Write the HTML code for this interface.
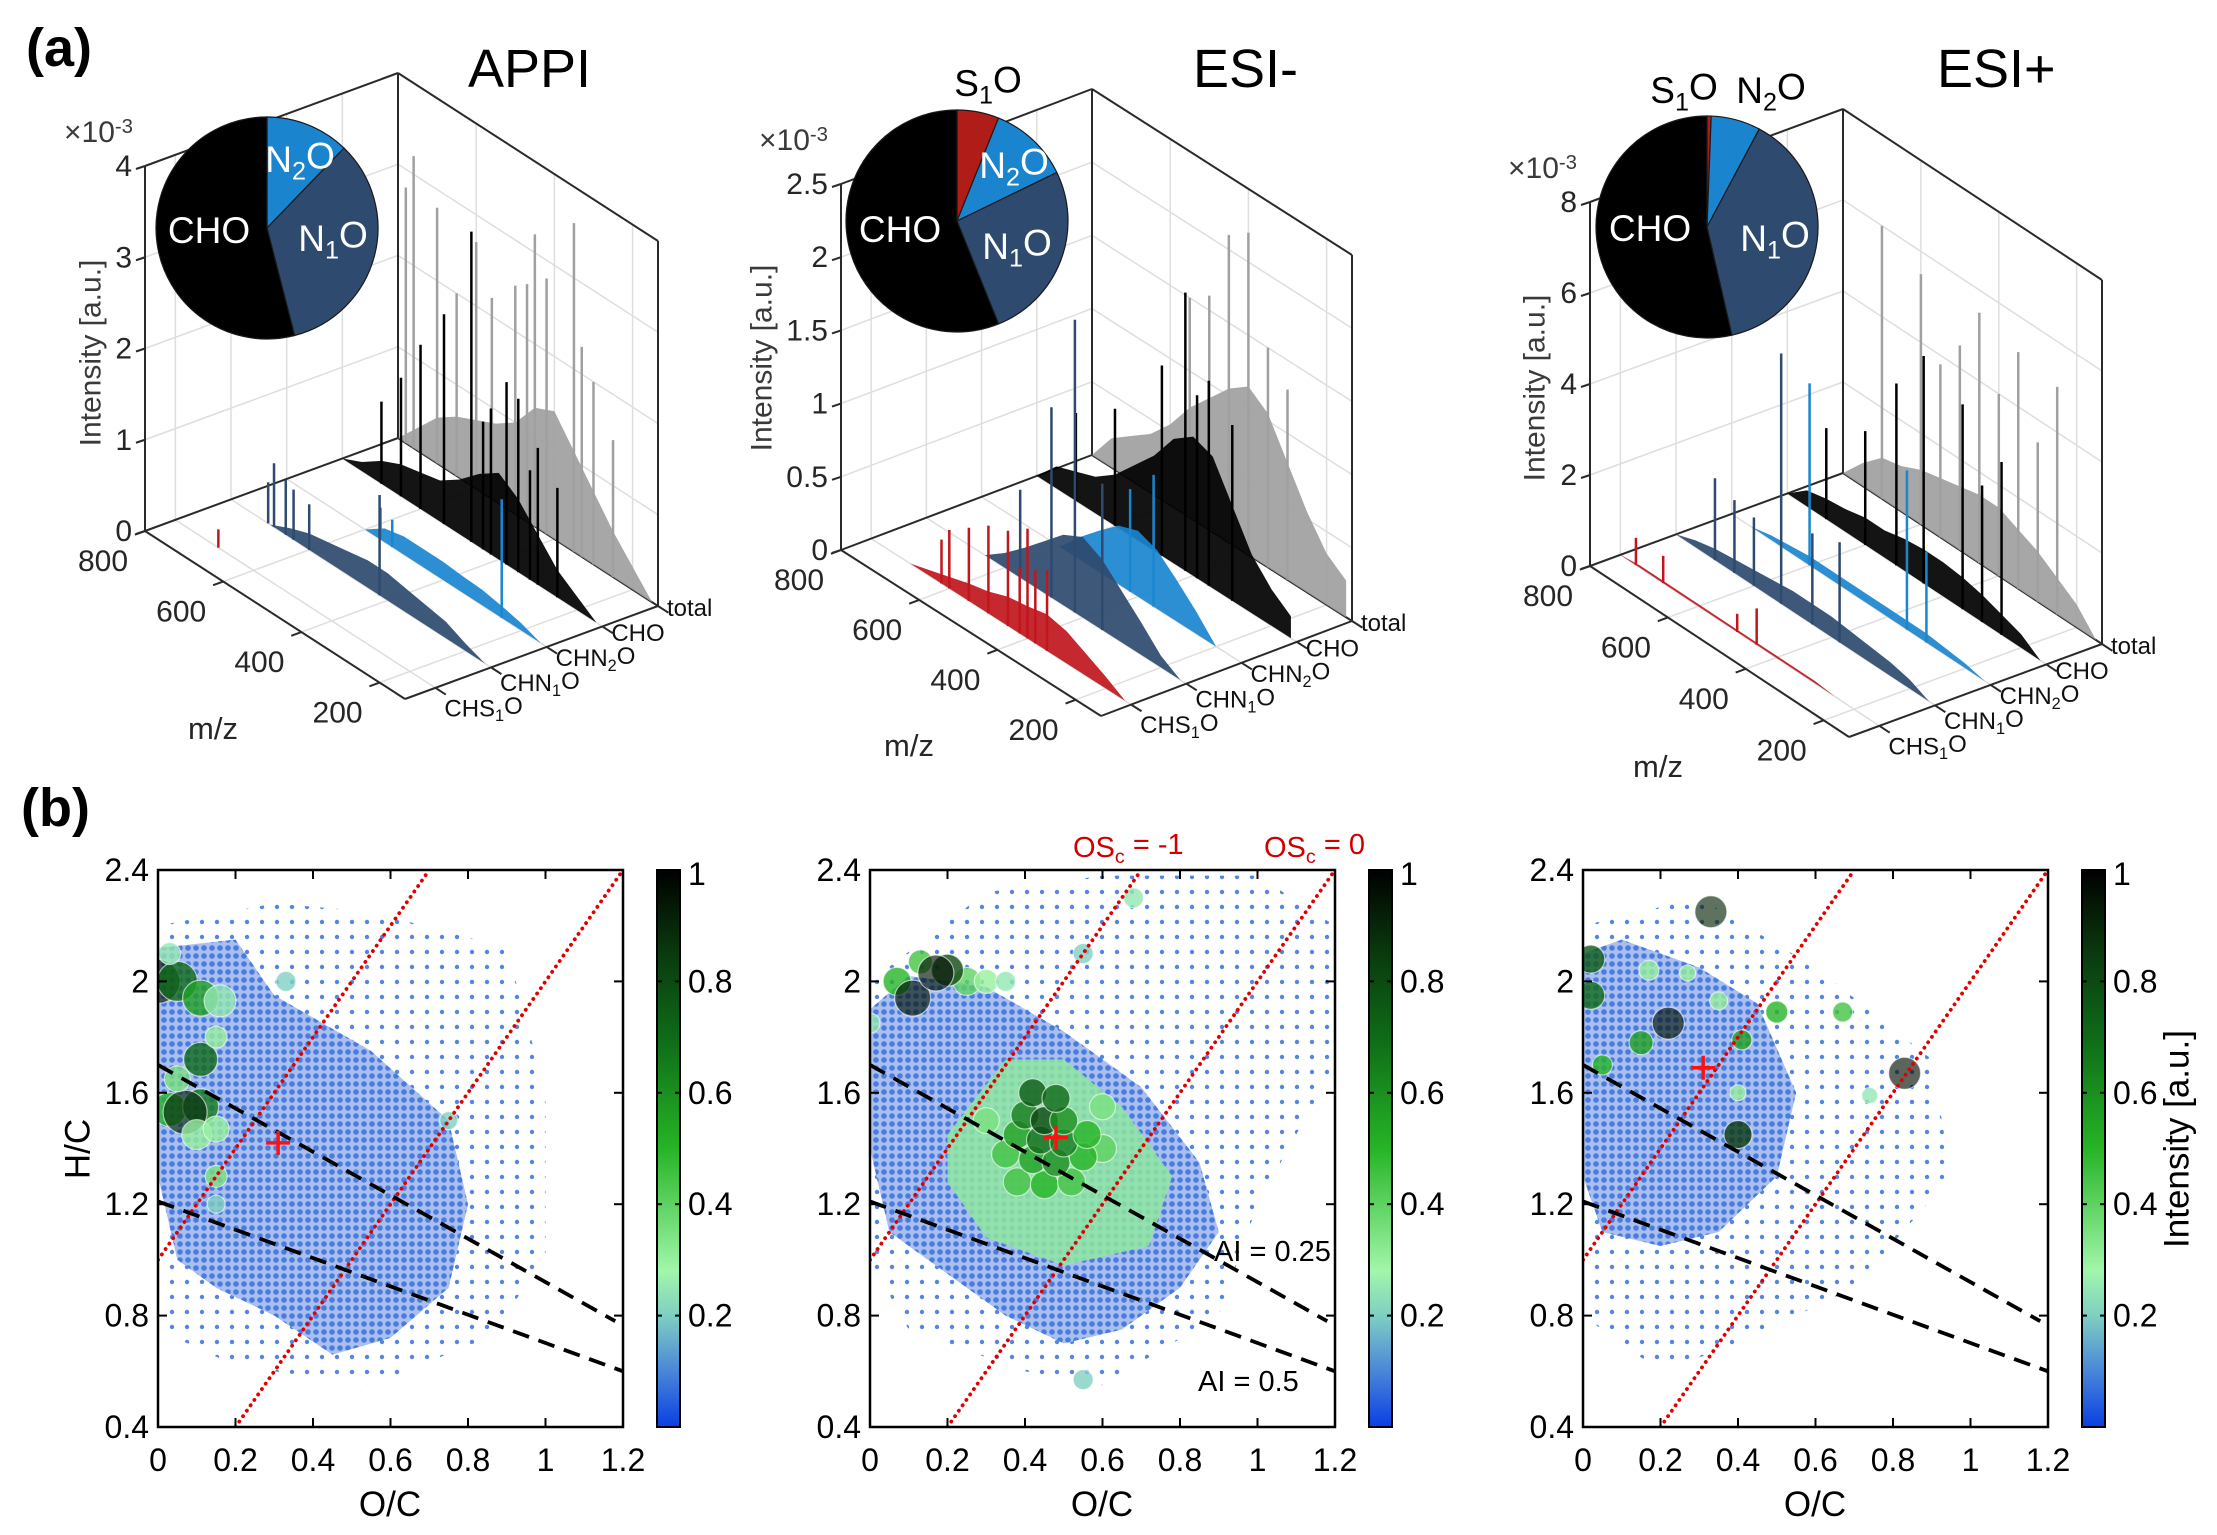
<!DOCTYPE html>
<html><head><meta charset="utf-8"><style>
html,body{margin:0;padding:0;background:#fff}
svg{display:block;font-family:"Liberation Sans",Arial,sans-serif}
</style></head><body>
<svg id="fig" xmlns="http://www.w3.org/2000/svg" width="2217" height="1535" viewBox="0 0 2217 1535">
<defs>
<pattern id="dotsDense" width="8" height="8" patternUnits="userSpaceOnUse"><circle cx="4" cy="4" r="2.8" fill="#3a6fdc"/></pattern>
<pattern id="dotsSparse" width="15" height="15" patternUnits="userSpaceOnUse"><circle cx="7" cy="7" r="2.2" fill="#5585e0"/></pattern>
<linearGradient id="cmap" x1="0" y1="1" x2="0" y2="0">
<stop offset="0" stop-color="#0a3fe2"/><stop offset="0.1" stop-color="#4a86d8"/><stop offset="0.2" stop-color="#7fcfc2"/><stop offset="0.28" stop-color="#a2f6aa"/><stop offset="0.5" stop-color="#26b426"/><stop offset="0.7" stop-color="#0f6a18"/><stop offset="0.85" stop-color="#0a3a0e"/><stop offset="1" stop-color="#000"/>
</linearGradient>
</defs>
<text x="26" y="66" font-size="54" font-weight="bold">(a)</text>
<text x="21" y="826" font-size="54" font-weight="bold">(b)</text>
<g id="topG"></g>
<g id="bottomG"></g>
</svg>
<script>
// ---------- DATA: spectra (a) ----------
const mzBins = [150,200,250,300,350,400,450,500,550,600,650,700,750,800];
const categories = ['CHS1O','CHN1O','CHN2O','CHO','total'];
const appiCHS = [0,0,0,0,0,0,0,0,0,0,0,0,0,0];
const appiCHSspikeMz = [690]; const appiCHSspikeH = [0.2];
const appiCHN1 = [0,0.08,0.18,0.22,0.26,0.3,0.3,0.26,0.22,0.18,0.1,0,0,0];
const appiCHN1spikeMz = [420,600,640,660,690,705]; const appiCHN1spikeH = [1.1,0.5,0.55,0.6,0.7,0.45];
const appiCHN2 = [0,0.08,0.13,0.17,0.18,0.2,0.2,0.2,0.15,0,0,0,0,0];
const appiCHN2spikeMz = [250,560,530]; const appiCHN2spikeH = [1.3,0.35,0.3];
const appiCHO = [0,0.15,0.3,0.55,0.8,0.95,0.8,0.6,0.45,0.4,0.35,0.25,0.1,0];
const appiCHOspikeMz = [250,300,350,380,420,470,540,600,650,700,320,440]; const appiCHOspikeH = [1.2,1.5,1.9,2.0,1.6,3.4,2.3,1.8,1.3,0.9,1.2,1.4];
const appiTot = [0,0.25,0.5,0.8,1.1,1.4,1.3,1.0,0.85,0.75,0.65,0.5,0.25,0];
const appiTotspikeMz = [250,300,350,420,450,500,560,600,650,700,760,780,330,470]; const appiTotspikeH = [1.5,2.0,3.6,2.8,3.2,2.5,2.2,2.7,2.0,2.8,3.2,2.8,2.3,2.6];

const esiNCHS = [0,0.08,0.15,0.22,0.25,0.22,0.2,0.15,0.12,0.08,0.04,0,0,0];
const esiNCHSspikeMz = [350,400,450,500,550,600,620,380,420]; const esiNCHSspikeH = [0.55,0.75,0.65,0.6,0.5,0.4,0.3,0.5,0.45];
const esiNCHN1 = [0,0.08,0.22,0.35,0.48,0.55,0.48,0.35,0.22,0.1,0,0,0,0];
const esiNCHN1spikeMz = [350,420,480,560]; const esiNCHN1spikeH = [1.0,2.0,1.3,0.6];
const esiNCHN2 = [0,0,0.15,0.28,0.4,0.45,0.4,0.28,0.15,0,0,0,0,0];
const esiNCHN2spikeMz = [360,420]; const esiNCHN2spikeH = [0.9,0.7];
const esiNCHO = [0.15,0.25,0.4,0.65,0.9,0.95,0.85,0.65,0.5,0.35,0.25,0.2,0.15,0];
const esiNCHOspikeMz = [300,360,420,480,600,700,390]; const esiNCHOspikeH = [1.2,1.4,1.9,1.3,0.8,0.6,1.25];
const esiNTot = [0.25,0.35,0.55,0.8,1.05,1.15,1.05,0.9,0.75,0.55,0.4,0.3,0.2,0];
const esiNTotspikeMz = [350,400,450,500,550,300]; const esiNTotspikeH = [1.5,2.2,2.1,1.6,1.5,1.3];

const esiPCHS = [0,0,0,0.05,0.05,0.05,0.05,0.05,0.05,0.05,0.05,0.05,0.05,0];
const esiPCHSspikeMz = [450,500,690,760]; const esiPCHSspikeH = [0.8,0.4,0.6,0.6];
const esiPCHN1 = [0,0.2,0.3,0.35,0.4,0.45,0.45,0.45,0.4,0.35,0.3,0.25,0.15,0];
const esiPCHN1spikeMz = [380,450,530,600,650,700]; const esiPCHN1spikeH = [2.2,2.0,5.5,1.5,1.6,1.8];
const esiPCHN2 = [0,0.1,0.15,0.2,0.2,0.2,0.2,0.2,0.2,0.2,0.15,0.1,0,0];
const esiPCHN2spikeMz = [300,350,600]; const esiPCHN2spikeH = [2.0,3.5,4.0];
const esiPCHO = [0,0.3,0.45,0.6,0.7,0.75,0.75,0.7,0.6,0.6,0.5,0.45,0.35,0];
const esiPCHOspikeMz = [250,300,350,450,520,600,700]; const esiPCHOspikeH = [3.8,3.0,4.5,5.0,4.0,2.5,2.0];
const esiPTot = [0,0.5,0.8,1.1,1.3,1.5,1.5,1.4,1.3,1.2,1.0,0.9,0.5,0];
const esiPTotspikeMz = [250,350,450,500,600,700,300,400,550]; const esiPTotspikeH = [5.0,5.2,5.5,4.5,5.5,6.0,3.5,4.0,3.8];

const zTicksAPPI = [0,1,2,3,4];
const zTicksESIn = [0,0.5,1,1.5,2,2.5];
const zTicksESIp = [0,2,4,6,8];
const mzTicks = [200,400,600,800];

// pie fractions, clockwise from top: S1O, N2O, N1O, CHO
const pieAPPI = [0,0.122,0.338,0.54];
const pieESIn = [0.061,0.117,0.261,0.561];
const pieESIp = [0.006,0.072,0.386,0.536];

// ---------- DATA: van Krevelen (b) ----------
const xTicks = [0,0.2,0.4,0.6,0.8,1,1.2];
const yTicks = [0.4,0.8,1.2,1.6,2,2.4];
const cbTicks = [0.2,0.4,0.6,0.8,1];
const cloudOuterAPPI = [[0,2.2],[0.3,2.28],[0.55,2.25],[0.9,2.12],[1.0,1.6],[1.0,1.0],[0.85,0.72],[0.55,0.55],[0.2,0.62],[0,0.75]];
const cloudInnerAPPI = [[0,2.12],[0.2,2.15],[0.3,1.95],[0.55,1.75],[0.75,1.5],[0.8,1.2],[0.75,0.9],[0.6,0.72],[0.45,0.66],[0.3,0.8],[0.15,0.9],[0.05,1.0],[0,1.3]];
const cloudOuterESIn = [[0,2.0],[0.3,2.32],[0.6,2.38],[1.0,2.38],[1.2,2.2],[1.2,1.7],[1.0,1.2],[0.9,0.8],[0.6,0.55],[0.4,0.6],[0.1,0.75],[0,1.0]];
const cloudInnerESIn = [[0,1.9],[0.1,2.02],[0.3,1.98],[0.5,1.82],[0.7,1.62],[0.85,1.35],[0.9,1.1],[0.8,0.9],[0.65,0.75],[0.5,0.7],[0.35,0.8],[0.2,0.95],[0.05,1.1],[0,1.4]];
const cloudGreenESIn = [[0.2,1.45],[0.35,1.72],[0.5,1.72],[0.65,1.55],[0.78,1.3],[0.72,1.05],[0.5,0.98],[0.3,1.08],[0.2,1.28]];
const cloudOuterESIp = [[0,2.2],[0.3,2.3],[0.6,2.05],[0.9,1.72],[0.95,1.3],[0.7,0.9],[0.4,0.7],[0.2,0.6],[0,0.8]];
const cloudInnerESIp = [[0,2.1],[0.1,2.15],[0.3,2.05],[0.45,1.92],[0.55,1.6],[0.5,1.3],[0.35,1.1],[0.2,1.05],[0.05,1.1],[0,1.3]];
// points: [O/C, H/C, intensity, radius]
const ptsAPPI = [[0,2.0,0.95,22],[0.05,2.0,0.7,20],[0.11,1.94,0.55,18],[0.16,1.93,0.25,16],[0.03,2.1,0.25,11],[0.11,1.72,0.7,17],[0.03,1.54,0.5,17],[0.11,1.55,0.65,18],[0.07,1.53,0.9,22],[0.05,1.65,0.35,13],[0.1,1.45,0.3,15],[0.15,1.47,0.3,13],[0.15,1.8,0.3,11],[0.15,1.3,0.35,11],[0.33,2.0,0.2,10],[0.75,1.5,0.2,9],[0.15,1.2,0.2,9]];
const ptsESIn = [[0.07,2.0,0.5,14],[0.13,2.07,0.45,12],[0.25,2.0,0.4,14],[0.3,2.0,0.3,12],[0.35,2.0,0.25,10],[0.55,2.1,0.2,10],[0.68,2.3,0.25,10],[0,1.85,0.25,10],[0.2,2.04,0.8,16],[0.11,1.94,0.95,18],[0.17,2.03,0.95,18],
 [0.3,1.5,0.35,13],[0.6,1.55,0.35,13],[0.38,1.28,0.45,14],[0.45,1.27,0.5,14],[0.52,1.28,0.45,14],[0.35,1.38,0.45,14],[0.6,1.4,0.4,14],[0.42,1.36,0.55,14],[0.48,1.35,0.6,14],[0.55,1.37,0.5,14],[0.38,1.45,0.55,14],[0.44,1.43,0.7,14],[0.5,1.42,0.65,14],[0.56,1.45,0.5,14],[0.4,1.52,0.65,14],[0.45,1.5,0.8,14],[0.5,1.5,0.6,14],[0.42,1.6,0.75,14],[0.48,1.58,0.7,14],[0.55,0.57,0.2,10]];
const ptsESIp = [[0.17,2.04,0.3,10],[0.27,2.03,0.3,8],[0.35,1.93,0.3,9],[0.74,1.59,0.25,8],[0.4,1.6,0.3,8],[0.33,2.25,0.9,16],[0.02,2.08,0.75,14],[0.02,1.95,0.7,14],[0.22,1.85,0.95,16],[0.15,1.78,0.55,12],[0.05,1.7,0.5,10],[0.5,1.89,0.5,11],[0.41,1.79,0.55,10],[0.67,1.89,0.45,10],[0.4,1.45,0.85,14],[0.83,1.67,0.95,16]];
const crossAPPI = [0.31,1.42], crossESIn = [0.48,1.44], crossESIp = [0.31,1.69];
const osc1Line = [[0,1.0],[0.7,2.4]];
const osc0Line = [[0.2,0.4],[1.2,2.4]];
const ai025Line = [[0,1.7],[1.18,0.78]];
const ai05Line = [[0,1.21],[1.2,0.6]];

// ---------- helpers ----------
const NS='http://www.w3.org/2000/svg';
function mk(tag, attrs, parent){const e=document.createElementNS(NS,tag);for(const k in attrs)e.setAttribute(k,attrs[k]);parent.appendChild(e);return e;}
function sub(t, parts){
  parts.forEach(p=>{const s=document.createElementNS(NS,'tspan');s.textContent=p[0];if(p[1]){s.setAttribute('font-size','0.68em');s.setAttribute('dy',p[1]>0?'0.3em':'-0.45em');}else if(p[2]){s.setAttribute('dy',p[2]);}t.appendChild(s);});
}
const catParts = {CHS1O:[['CHS'],['1',1],['O',0,'-0.3em']],CHN1O:[['CHN'],['1',1],['O',0,'-0.3em']],CHN2O:[['CHN'],['2',1],['O',0,'-0.3em']],CHO:[['CHO']],total:[['total']]};
const gTop=document.getElementById('topG'), gBottom=document.getElementById('bottomG');

// ---------- (a) 3D spectra ----------
const panels3D=[
 {name:'appi',title:'APPI',tx:468,A:[145,531],B:[398,438],C:[656,604],D:[405,699],zh:365,zmax:4,zt:zTicksAPPI,
  series:[[appiTot,appiTotspikeMz,appiTotspikeH],[appiCHO,appiCHOspikeMz,appiCHOspikeH],[appiCHN2,appiCHN2spikeMz,appiCHN2spikeH],[appiCHN1,appiCHN1spikeMz,appiCHN1spikeH],[appiCHS,appiCHSspikeMz,appiCHSspikeH]],
  pie:pieAPPI,pc:[267,228],exp:[64,142],ylab:[90,353]},
 {name:'esi-neg',title:'ESI-',tx:1193,A:[841,550],B:[1092,455],C:[1350,619],D:[1101,716],zh:366,zmax:2.5,zt:zTicksESIn,
  series:[[esiNTot,esiNTotspikeMz,esiNTotspikeH],[esiNCHO,esiNCHOspikeMz,esiNCHOspikeH],[esiNCHN2,esiNCHN2spikeMz,esiNCHN2spikeH],[esiNCHN1,esiNCHN1spikeMz,esiNCHN1spikeH],[esiNCHS,esiNCHSspikeMz,esiNCHSspikeH]],
  pie:pieESIn,pc:[957,221],exp:[759,150],ylab:[761,358]},
 {name:'esi-pos',title:'ESI+',tx:1937,A:[1590,566],B:[1843,473],C:[2100,638],D:[1849,737],zh:364,zmax:8,zt:zTicksESIp,
  series:[[esiPTot,esiPTotspikeMz,esiPTotspikeH],[esiPCHO,esiPCHOspikeMz,esiPCHOspikeH],[esiPCHN2,esiPCHN2spikeMz,esiPCHN2spikeH],[esiPCHN1,esiPCHN1spikeMz,esiPCHN1spikeH],[esiPCHS,esiPCHSspikeMz,esiPCHSspikeH]],
  pie:pieESIp,pc:[1707,227],exp:[1508,178],ylab:[1534,388]}
];
const catV=[0.12,0.34,0.56,0.78,1.0];
const seriesColors=['#a0a0a0','#000000','#1a86d0','#2e4a6e','#c0161c'];
const seriesNames=['total','CHO','CHN2O','CHN1O','CHS1O'];
const seriesV=[1.0,0.78,0.56,0.34,0.12];
const pieColors=['#b01c17','#1a84cf','#2e4a6e','#000000'];
const pieNames=['S1O','N2O','N1O','CHO'];

panels3D.forEach(p=>{
  const g=mk('g',{},gTop);
  
  
  const proj=(mz,v,z)=>{const u=(800-mz)/665;return [p.A[0]+u*(p.D[0]-p.A[0])+v*(p.B[0]-p.A[0]), p.A[1]+u*(p.D[1]-p.A[1])+v*(p.B[1]-p.A[1])-z/p.zmax*p.zh];};
  const L=(a,b,st,w,par)=>mk('line',{x1:a[0],y1:a[1],x2:b[0],y2:b[1],stroke:st,'stroke-width':w},par||g);
  const grid=mk('g',{},g);
  
  
  const gc='#dedede';
  p.zt.forEach(z=>{ if(z===0)return; L(proj(800,0,z),proj(800,1,z),gc,1.5,grid); L(proj(800,1,z),proj(135,1,z),gc,1.5,grid);});
  catV.forEach(v=>{L(proj(800,v,0),proj(800,v,p.zmax),gc,1.5,grid); L(proj(800,v,0),proj(135,v,0),gc,1.5,grid);});
  mzTicks.forEach(m=>{L(proj(m,1,0),proj(m,1,p.zmax),gc,1.5,grid); L(proj(m,0,0),proj(m,1,0),gc,1.5,grid);});
  const bx=mk('g',{},g);
  
  
  const ac='#2a2a2a';
  L(proj(800,0,p.zmax),proj(800,1,p.zmax),ac,2,bx);
  L(proj(800,1,0),proj(800,1,p.zmax),ac,2,bx);
  L(proj(800,1,p.zmax),proj(135,1,p.zmax),ac,2,bx);
  L(proj(135,1,0),proj(135,1,p.zmax),ac,2,bx);
  L(proj(800,0,0),proj(800,1,0),ac,2,bx);
  L(proj(800,1,0),proj(135,1,0),ac,2,bx);
  p.series.forEach((s,si)=>{
    const sg=mk('g',{},g);
    
    
    const v=seriesV[si];
    const vals=s[0];
    let i0=vals.findIndex(x=>x>0), i1=-1;
    for(let i=vals.length-1;i>=0;i--){if(vals[i]>0){i1=i;break;}}
    if(i0>=0){
      i0=Math.max(0,i0-1); i1=Math.min(vals.length-1,i1+1);
      let pts=[];
      for(let i=i0;i<=i1;i++)pts.push(proj(mzBins[i],v,vals[i]));
      pts.push(proj(mzBins[i1],v,0)); pts.push(proj(mzBins[i0],v,0));
      const poly=mk('polygon',{points:pts.map(q=>q.join(',')).join(' '),fill:seriesColors[si],'fill-opacity':0.92},sg);
      
      
    }
    s[1].forEach((m,i)=>{
      const ln=L(proj(m,v,0),proj(m,v,s[2][i]),seriesColors[si],2.5,sg);
      
      
    });
  });
  L(proj(800,0,0),proj(800,0,p.zmax),ac,2,bx);
  L(proj(800,0,0),proj(135,0,0),ac,2,g);
  L(proj(135,0,0),proj(135,1,0),ac,2,g);
  p.zt.forEach(z=>{
    const q=proj(800,0,z);
    L(q,[q[0]-9,q[1]+3],ac,2);
    const t=mk('text',{x:q[0]-13,y:q[1]+10,'font-size':30,'text-anchor':'end',fill:'#262626'},g);
    t.textContent=String(z);
    
    
  });
  mzTicks.forEach(m=>{
    const q=proj(m,0,0);
    L(q,[q[0]-(p.B[0]-p.A[0])*0.04,q[1]-(p.B[1]-p.A[1])*0.04],ac,2);
    const t=mk('text',{x:q[0]-42,y:q[1]+40,'font-size':30,'text-anchor':'middle',fill:'#262626'},g);
    t.textContent=String(m);
    
    
  });
  categories.forEach((c,i)=>{
    const v=catV[i];
    const q=proj(135,v,0);
    L(q,[q[0]+(p.D[0]-p.A[0])*0.04,q[1]+(p.D[1]-p.A[1])*0.04],ac,2);
    const t=mk('text',{x:q[0]+9,y:q[1]+10+(1-v)*21,'font-size':24,fill:'#111'},g);
    sub(t,catParts[c]);
    
    
  });
  const mzl=mk('text',{x:p.A[0]+68,y:p.D[1]+40,'font-size':31,'text-anchor':'middle',fill:'#262626'},g);
  mzl.textContent='m/z';
  
  
  const yl=mk('text',{x:p.ylab[0],y:p.ylab[1],'font-size':30,'text-anchor':'middle',fill:'#3a3a3a',transform:`rotate(-90 ${p.ylab[0]} ${p.ylab[1]})`,dy:'0.35em'},g);
  yl.textContent='Intensity [a.u.]';
  
  
  const ex=mk('text',{x:p.exp[0],y:p.exp[1],'font-size':30,fill:'#3a3a3a'},g);
  sub(ex,[['×10'],['-3',-1]]);
  
  
  const ti=mk('text',{x:p.tx,y:87,'font-size':54,fill:'#000'},g);
  ti.textContent=p.title;
  
  
  const pg=mk('g',{},g);
  
  
  const R=111; let a0=0;
  p.pie.forEach((f,i)=>{
    if(f<=0)return;
    const a1=a0+f*2*Math.PI;
    const x0=p.pc[0]+R*Math.sin(a0), y0=p.pc[1]-R*Math.cos(a0), x1=p.pc[0]+R*Math.sin(a1), y1=p.pc[1]-R*Math.cos(a1);
    const path=mk('path',{d:`M${p.pc[0]},${p.pc[1]} L${x0},${y0} A${R},${R} 0 ${f>0.5?1:0} 1 ${x1},${y1} Z`,fill:pieColors[i],stroke:'#1a1a1a','stroke-width':1.2},pg);
    
    
    a0=a1;
  });
});
const pieLabels=[
 [209,243,'#fff',[['CHO']]],[300,172,'#fff',[['N'],['2',1],['O',0,'-0.3em']]],[333,251,'#fff',[['N'],['1',1],['O',0,'-0.3em']]],
 [900,242,'#fff',[['CHO']]],[1014,178,'#fff',[['N'],['2',1],['O',0,'-0.3em']]],[1017,259,'#fff',[['N'],['1',1],['O',0,'-0.3em']]],[988,96,'#000',[['S'],['1',1],['O',0,'-0.3em']]],
 [1650,241,'#fff',[['CHO']]],[1775,251,'#fff',[['N'],['1',1],['O',0,'-0.3em']]],[1684,103,'#000',[['S'],['1',1],['O',0,'-0.3em']]],[1771,103,'#000',[['N'],['2',1],['O',0,'-0.3em']]]
];
pieLabels.forEach(l=>{
  const t=mk('text',{x:l[0],y:l[1],'font-size':37,'text-anchor':'middle',fill:l[2]},gTop);
  sub(t,l[3]);
  
  
});

// ---------- (b) van Krevelen ----------
const panelsVK=[
 {name:'appi',x0:158,outer:cloudOuterAPPI,inner:cloudInnerAPPI,green:null,pts:ptsAPPI,cross:crossAPPI,ylab:true},
 {name:'esi-neg',x0:870,outer:cloudOuterESIn,inner:cloudInnerESIn,green:cloudGreenESIn,pts:ptsESIn,cross:crossESIn,ylab:false},
 {name:'esi-pos',x0:1583,outer:cloudOuterESIp,inner:cloudInnerESIp,green:null,pts:ptsESIp,cross:crossESIp,ylab:false,cblab:true}
];
const PW=465, PT=870, PB=1427;
const cstops=[[0,[10,63,226]],[0.1,[74,134,216]],[0.2,[127,207,194]],[0.28,[162,246,170]],[0.5,[38,180,38]],[0.7,[15,106,24]],[0.85,[10,58,14]],[1,[0,0,0]]];
function cmap(v){for(let i=1;i<cstops.length;i++){if(v<=cstops[i][0]){const a=cstops[i-1],b=cstops[i],t=(v-a[0])/(b[0]-a[0]);return 'rgb('+a[1].map((c,k)=>Math.round(c+(b[1][k]-c)*t)).join(',')+')';}}return '#000';}
panelsVK.forEach((p,pi)=>{
  const g=mk('g',{},gBottom);
  
  
  const sx=x=>p.x0+x/1.2*PW, sy=y=>PB-(y-0.4)/2*(PB-PT);
  const cid='clip'+pi;
  const cp=mk('clipPath',{id:cid},g); mk('rect',{x:p.x0,y:PT,width:PW,height:PB-PT},cp);
  const pg=mk('g',{'clip-path':`url(#${cid})`},g);
  const poly=(arr)=>arr.map(q=>sx(q[0])+','+sy(q[1])).join(' ');
  const o=mk('polygon',{points:poly(p.outer),fill:'url(#dotsSparse)'},pg);
  
  
  const inr=mk('polygon',{points:poly(p.inner),fill:'#a9c0ef'},pg);
  
  
  const inr2=mk('polygon',{points:poly(p.inner),fill:'url(#dotsDense)',opacity:0.85},pg);
  
  
  if(p.green){
    const gr=mk('polygon',{points:poly(p.green),fill:'#8fe6a0',opacity:0.85},pg);
    
    
  }
  p.pts.forEach(d=>{
    const c=mk('circle',{cx:sx(d[0]),cy:sy(d[1]),r:d[3],fill:cmap(d[2]),'fill-opacity':d[2]>0.85?0.65:0.8,stroke:'rgba(255,255,255,0.6)','stroke-width':1.2},pg);
    
    
  });
  const LL=(arr,st,w,da)=>mk('line',{x1:sx(arr[0][0]),y1:sy(arr[0][1]),x2:sx(arr[1][0]),y2:sy(arr[1][1]),stroke:st,'stroke-width':w,'stroke-dasharray':da,'stroke-linecap':da.startsWith('0')?'round':'butt'},pg);
  const l1=LL(osc1Line,'#e00000',3.8,'0.1 6.5');
  
  
  const l2=LL(osc0Line,'#e00000',3.8,'0.1 6.5');
  
  
  const l3=LL(ai025Line,'#000',3.8,'17 10');
  
  
  const l4=LL(ai05Line,'#000',3.8,'17 10');
  
  
  const cx=sx(p.cross[0]), cy=sy(p.cross[1]);
  const cr=mk('path',{d:`M${cx-12},${cy}H${cx+12}M${cx},${cy-12}V${cy+12}`,stroke:'#ff1010','stroke-width':3.5},g);
  
  
  const fr=mk('rect',{x:p.x0,y:PT,width:PW,height:PB-PT,fill:'none',stroke:'#000','stroke-width':2.5},g);
  
  
  xTicks.forEach(x=>{
    mk('line',{x1:sx(x),y1:PB,x2:sx(x),y2:PB-9,stroke:'#000','stroke-width':2},g);
    mk('line',{x1:sx(x),y1:PT,x2:sx(x),y2:PT+9,stroke:'#000','stroke-width':2},g);
    const t=mk('text',{x:sx(x),y:PB+44,'font-size':32,'text-anchor':'middle'},g);
    t.textContent=String(x);
    
    
  });
  yTicks.forEach(y=>{
    mk('line',{x1:p.x0,y1:sy(y),x2:p.x0+9,y2:sy(y),stroke:'#000','stroke-width':2},g);
    mk('line',{x1:p.x0+PW,y1:sy(y),x2:p.x0+PW-9,y2:sy(y),stroke:'#000','stroke-width':2},g);
    const t=mk('text',{x:p.x0-9,y:sy(y)+11,'font-size':32,'text-anchor':'end'},g);
    t.textContent=String(y);
    
    
  });
  const xl=mk('text',{x:p.x0+232,y:1516,'font-size':35,'text-anchor':'middle'},g);
  xl.textContent='O/C';
  
  
  if(p.ylab){
    const yl=mk('text',{x:77,y:1149,'font-size':35,'text-anchor':'middle',dy:'0.35em',transform:'rotate(-90 77 1149)'},g);
    yl.textContent='H/C';
    
    
  }
  const cbx=p.x0+499;
  const cb=mk('rect',{x:cbx,y:PT,width:23,height:PB-PT,fill:'url(#cmap)',stroke:'#000','stroke-width':2},g);
  
  
  cbTicks.forEach(v=>{
    const y=PB-v*(PB-PT);
    mk('line',{x1:cbx,y1:y,x2:cbx+5,y2:y,stroke:'#000','stroke-width':2},g);
    mk('line',{x1:cbx+23,y1:y,x2:cbx+18,y2:y,stroke:'#000','stroke-width':2},g);
    const t=mk('text',{x:cbx+31,y:y+(v===1?15:11),'font-size':32},g);
    t.textContent=String(v);
    
    
  });
  if(p.cblab){
    const t=mk('text',{x:2176,y:1139,'font-size':35,'text-anchor':'middle',dy:'0.35em',transform:'rotate(-90 2176 1139)'},g);
    t.textContent='Intensity [a.u.]';
    
    
  }
  if(pi===1){
    const a=mk('text',{x:1073,y:857,'font-size':29,fill:'#d00000'},g);
    sub(a,[['OS'],['c',1],[' = -1',0,'-0.3em']]);
    
    
    const b=mk('text',{x:1264,y:857,'font-size':29,fill:'#d00000'},g);
    sub(b,[['OS'],['c',1],[' = 0',0,'-0.3em']]);
    
    
    const c=mk('text',{x:1214,y:1261,'font-size':29},g);
    c.textContent='AI = 0.25';
    
    
    const d=mk('text',{x:1198,y:1391,'font-size':29},g);
    d.textContent='AI = 0.5';
    
    
  }
});
</script>
</body></html>
